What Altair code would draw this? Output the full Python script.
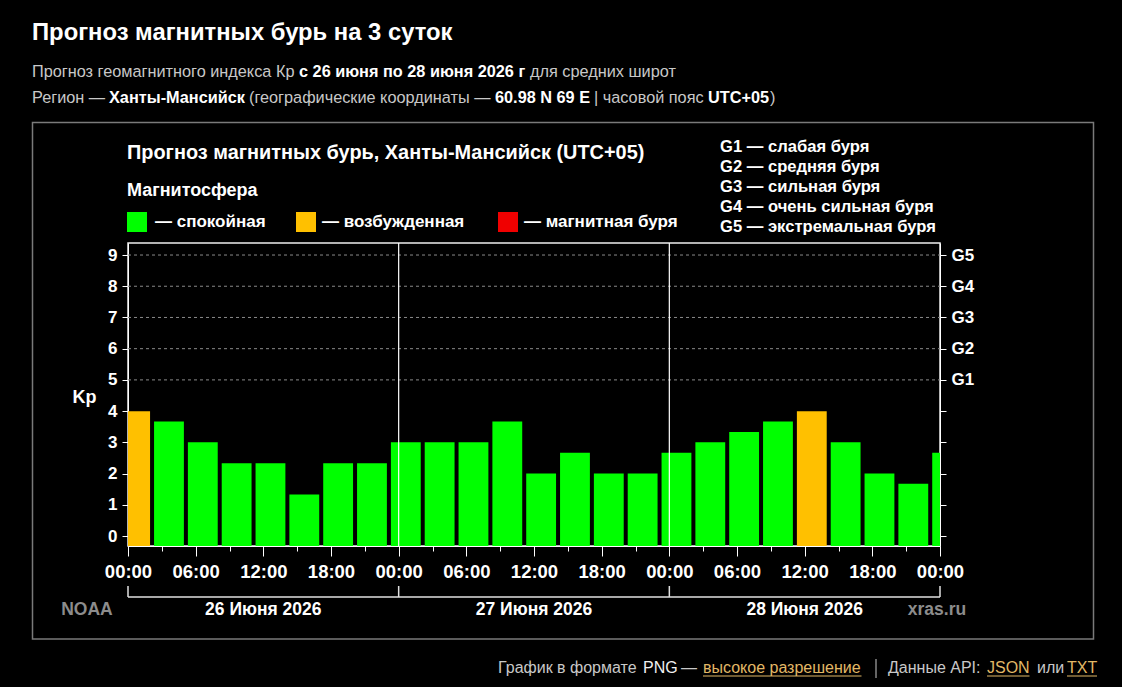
import altair as alt
import pandas as pd

# ---------------- data ----------------
slot_start_hours = [-1, 2, 5, 8, 11, 14, 17, 20, 23, 26, 29, 32, 35, 38, 41, 44,
                    47, 50, 53, 56, 59, 62, 65, 68, 71]
kp_values = [4.0, 3.67, 3.0, 2.33, 2.33, 1.33, 2.33, 2.33, 3.0, 3.0, 3.0, 3.67,
             2.0, 2.67, 2.0, 2.0, 2.67, 3.0, 3.33, 3.67, 4.0, 3.0, 2.0, 1.67, 2.67]
slot_hours = 3

levels = ["спокойная", "возбужденная", "магнитная буря"]
level_colors = ["#00ff00", "#ffc000", "#f00000"]

kp_ticks = [0, 1, 2, 3, 4, 5, 6, 7, 8, 9]
g_levels = [5, 6, 7, 8, 9]
g_names = ["G1", "G2", "G3", "G4", "G5"]
g_descr = ["G1 — слабая буря", "G2 — средняя буря", "G3 — сильная буря",
           "G4 — очень сильная буря", "G5 — экстремальная буря"]

hour_ticks = [0, 3, 6, 9, 12, 15, 18, 21, 24, 27, 30, 33, 36, 39, 42, 45, 48,
              51, 54, 57, 60, 63, 66, 69, 72]
hour_label_values = [0, 6, 12, 18, 24, 30, 36, 42, 48, 54, 60, 66, 72]
hour_labels = ["00:00", "06:00", "12:00", "18:00", "00:00", "06:00", "12:00",
               "18:00", "00:00", "06:00", "12:00", "18:00", "00:00"]

day_boundaries = [0, 24, 48, 72]
day_centers = [12, 36, 60]
day_names = ["26 Июня 2026", "27 Июня 2026", "28 Июня 2026"]

KP_MIN, KP_MAX = -0.32, 9.385
H_MIN, H_MAX = 0, 72

FONT = "Liberation Sans"
W, H = 812, 303

df = pd.DataFrame({"start": slot_start_hours, "kp": kp_values})
blank = pd.DataFrame({"k": [0]})

xscale = alt.Scale(domain=[H_MIN, H_MAX], nice=False, zero=False)
yscale = alt.Scale(domain=[KP_MIN, KP_MAX], nice=False, zero=False)

x_label_expr = " : ".join(
    f"datum.value == {v} ? '{l}'" for v, l in zip(hour_label_values, hour_labels)
) + " : ''"
g_label_expr = " : ".join(
    f"datum.value == {v} ? '{n}'" for v, n in zip(g_levels, g_names)
) + " : ''"
level_expr = (f"datum.kp >= 5 ? '{levels[2]}' : datum.kp >= 4 ? '{levels[1]}' : '{levels[0]}'")

x_axis = alt.Axis(values=hour_ticks, labelExpr=x_label_expr,
                  tickSize={"condition": {"test": "datum.value % 6 === 0", "value": 10}, "value": 5},
                  labelPadding=6, labelOverlap=False, labelFlush=False,
                  labelBound=False, grid=False, domainColor="#ffffff",
                  tickColor="#ffffff", labelColor="#ffffff", labelFont=FONT,
                  labelFontSize=18.5, labelFontWeight="bold", title=None)

# ---------------- layers ----------------
grid = alt.Chart(pd.DataFrame({"g": g_levels})).mark_rule(
    color="#8a8a8a", strokeDash=[3, 3], strokeWidth=1
).encode(
    y=alt.Y("g:Q", scale=yscale,
            axis=alt.Axis(orient="right", values=kp_ticks, labelExpr=g_label_expr,
                          tickSize=6, labelPadding=5, grid=False, domain=True,
                          domainColor="#ffffff", tickColor="#ffffff",
                          labelColor="#ffffff", labelFont=FONT, labelFontSize=17,
                          labelFontWeight="bold", labelBaseline="middle"),
            title=None),
    x=alt.value(0), x2=alt.value(W),
)

bars = alt.Chart(df).transform_calculate(
    end=f"datum.start + {slot_hours}", level=level_expr
).mark_bar(clip=True, xOffset=3.5, x2Offset=-0.5).encode(
    x=alt.X("start:Q", scale=xscale, axis=x_axis),
    x2="end:Q",
    y=alt.Y("kp:Q", scale=yscale,
            axis=alt.Axis(orient="left", values=kp_ticks, tickSize=6, labelPadding=5,
                          grid=False, domainColor="#ffffff", tickColor="#ffffff",
                          labelColor="#ffffff", labelFont=FONT, labelFontSize=17,
                          labelFontWeight="bold", title="Kp", titleAngle=0,
                          titleX=-44, titleY=154, titleAlign="center",
                          titleBaseline="middle", titleFont=FONT, titleFontSize=18,
                          titleFontWeight="bold", titleColor="#ffffff")),
    y2=alt.datum(KP_MIN),
    color=alt.Color("level:N", scale=alt.Scale(domain=levels, range=level_colors),
                    legend=None),
)

separators = alt.Chart(pd.DataFrame({"d": day_boundaries[1:-1]})).mark_rule(
    color="#ffffff", strokeWidth=1.2
).encode(x=alt.X("d:Q", scale=xscale, axis=x_axis), y=alt.value(0), y2=alt.value(H))

bracket_h = alt.Chart(blank).mark_rule(color="#e0e0e0", strokeWidth=1.5).encode(
    x=alt.datum(H_MIN, scale=xscale, axis=x_axis), x2=alt.datum(H_MAX), y=alt.value(354))
bracket_v = alt.Chart(pd.DataFrame({"d": day_boundaries})).mark_rule(
    color="#e0e0e0", strokeWidth=1.5
).encode(x=alt.X("d:Q", scale=xscale, axis=x_axis), y=alt.value(343), y2=alt.value(354))

days = alt.Chart(pd.DataFrame({"c": day_centers, "name": day_names})).mark_text(
    font=FONT, fontSize=17.5, fontWeight="bold", color="#ffffff", baseline="middle"
).encode(x=alt.X("c:Q", scale=xscale, axis=x_axis), y=alt.value(367), text="name:N")


def label(text, x, y, size=17, weight="bold", color="#ffffff", align="left",
          baseline="middle"):
    return alt.Chart(blank).mark_text(
        text=text, font=FONT, fontSize=size, fontWeight=weight, color=color,
        align=align, baseline=baseline
    ).encode(x=alt.value(x), y=alt.value(y))


def box(x, x2, y, y2, color):
    return alt.Chart(blank).mark_rect(color=color).encode(
        x=alt.value(x), x2=alt.value(x2), y=alt.value(y), y2=alt.value(y2))


def hline(x, x2, y, color, width=1):
    return alt.Chart(blank).mark_rule(color=color, strokeWidth=width).encode(
        x=alt.value(x), x2=alt.value(x2), y=alt.value(y))


def vline(x, y, y2, color, width=1):
    return alt.Chart(blank).mark_rule(color=color, strokeWidth=width).encode(
        x=alt.value(x), y=alt.value(y), y2=alt.value(y2))


GREY = "#c8c8c8"
LINK = "#e2b866"
HS = 16.3  # header text size

frame = alt.Chart(blank).mark_rect(
    fillOpacity=0, stroke="#7a7a7a", strokeWidth=1.5
).encode(x=alt.value(-95.5), x2=alt.value(965.5), y=alt.value(-120.5), y2=alt.value(396))

texts = [
    # page header
    label("Прогноз магнитных бурь на 3 суток", -96, -203, size=23.8, baseline="alphabetic"),
    label("Прогноз геомагнитного индекса Кр", -96, -166.5, size=HS, weight="normal",
          color=GREY, baseline="alphabetic"),
    label("с 26 июня по 28 июня 2026 г", 171, -166.5, size=HS, baseline="alphabetic"),
    label("для средних широт", 402, -166.5, size=HS, weight="normal", color=GREY,
          baseline="alphabetic"),
    label("Регион —", -96, -140.5, size=HS, weight="normal", color=GREY, baseline="alphabetic"),
    label("Ханты-Мансийск", -19, -140.5, size=HS, baseline="alphabetic"),
    label("(географические координаты —", 121, -140.5, size=HS, weight="normal",
          color=GREY, baseline="alphabetic"),
    label("60.98 N 69 E", 367, -140.5, size=HS, baseline="alphabetic"),
    label("| часовой пояс", 466, -140.5, size=HS, weight="normal", color=GREY,
          baseline="alphabetic"),
    label("UTC+05", 580, -140.5, size=HS, baseline="alphabetic"),
    label(")", 642, -140.5, size=HS, weight="normal", color=GREY, baseline="alphabetic"),
    # chart heading and legend
    label("Прогноз магнитных бурь, Ханты-Мансийск (UTC+05)", -1, -90, size=19.9),
    label("Магнитосфера", -1, -52, size=18),
    box(-1, 19, -31, -11, level_colors[0]),
    label("— спокойная", 27, -21, size=17),
    box(168, 188, -31, -11, level_colors[1]),
    label("— возбужденная", 194, -21, size=17),
    box(370, 390, -31, -11, level_colors[2]),
    label("— магнитная буря", 396, -21, size=17),
]
for i, d in enumerate(g_descr):
    texts.append(label(d, 592, -96 + 20 * i, size=16.6))

texts += [
    label("NOAA", -41, 367, size=17.5, color="#8c8c8c", align="center"),
    label("xras.ru", 809, 367, size=17.5, color="#8c8c8c", align="center"),
    # footer
    label("График в формате", 370, 425, size=16, weight="normal", color=GREY),
    label("PNG", 515, 425, size=16, weight="normal", color="#f0f0f0"),
    label("—", 553, 425, size=16, weight="normal", color=GREY),
    label("высокое разрешение", 575, 425, size=16, weight="normal", color=LINK),
    hline(575, 733.5, 433, LINK),
    vline(748, 416, 435, GREY),
    label("Данные API:", 760, 425, size=16, weight="normal", color=GREY),
    label("JSON", 859, 425, size=16, weight="normal", color=LINK),
    hline(859, 901.5, 433, LINK),
    label("или", 909, 425, size=16, weight="normal", color=GREY),
    label("TXT", 939, 425, size=16, weight="normal", color=LINK),
    hline(939, 969, 433, LINK),
]

chart = alt.layer(
    frame, grid, bars, separators, bracket_h, bracket_v, days, *texts
).resolve_scale(y="independent").properties(
    width=W, height=H,
    autosize=alt.AutoSizeParams(type="none"),
    padding={"left": 128, "top": 243, "right": 182, "bottom": 141},
    background="#000000",
).configure_view(stroke="#eeeeee", strokeWidth=1.5)

chart.save("out.html", embed_options={"renderer": "svg", "actions": False})
